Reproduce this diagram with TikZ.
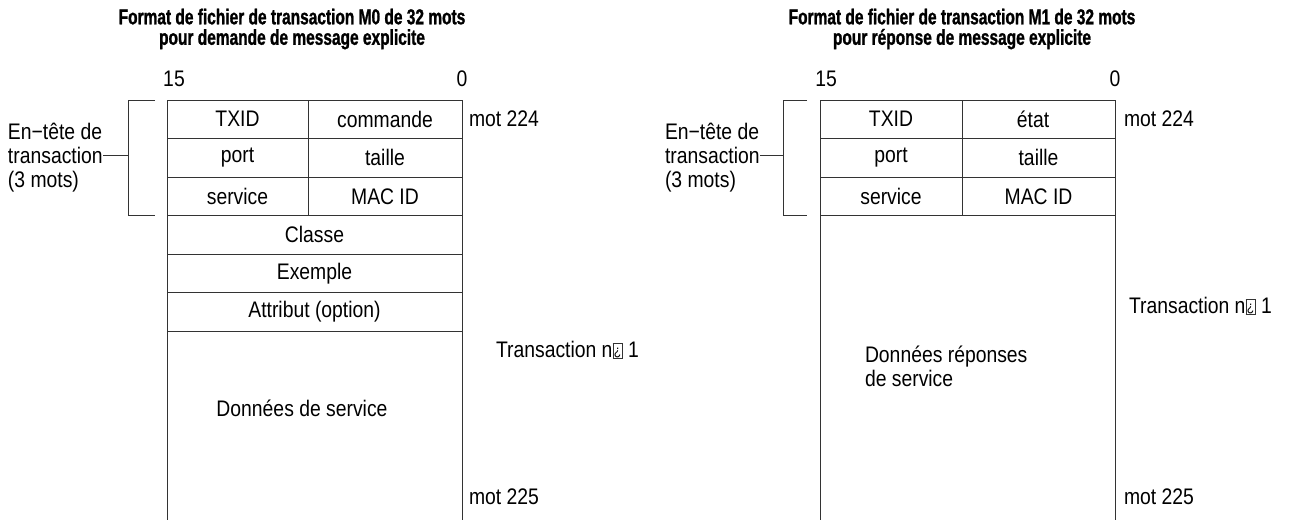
\documentclass[tikz,border=0pt]{standalone}
\usepackage{fontspec}
\setmainfont{Liberation Sans}[FakeStretch=0.86]
\newfontfamily\ttlfont{Liberation Sans Bold}[FakeStretch=0.72,FakeBold=1.2]
\definecolor{ln}{gray}{0.2}
\newcommand{\nobox}{{\setlength{\fboxsep}{0pt}\setlength{\fboxrule}{0.6pt}\raisebox{-1pt}{\fcolorbox{ln}{white}{\makebox[9pt]{\rule{0pt}{15pt}\raisebox{2.5pt}{\fontsize{14}{14}\selectfont ¿}}}}}}
\begin{document}
\begin{tikzpicture}[x=1pt,y=-1pt,
  txt/.style={inner sep=0pt, outer sep=0pt, font=\fontsize{22.5}{24}\selectfont, text=black},
  cell/.style={draw=ln, line width=0.9pt, minimum height=38.5pt, inner sep=0pt, outer sep=0pt, anchor=north west, font=\fontsize{22.5}{24}\selectfont, text=black},
  ttl/.style={inner sep=0pt, align=center, font=\ttlfont\fontsize{21.5}{20.5}\selectfont, text=black},
  rule/.style={draw=ln, line width=0.9pt}]
\useasboundingbox (0,0) rectangle (1289,520);

% ---------------- left: M0 ----------------
\node[ttl] (l-title) at (292,29) {Format de fichier de transaction M0 de 32 mots\\pour demande de message explicite};
\node[txt] (l-15) at (174,79) {15};
\node[txt] (l-0) at (462,79) {0};

\node[cell, minimum width=141pt] (l-txid) at (167,100) {TXID};
\node[cell, minimum width=154pt] (l-cmd) at (308,100) {commande};
\node[cell, minimum width=141pt] (l-port) at (167,138.5) {port};
\node[cell, minimum width=154pt] (l-taille) at (308,138.5) {taille};
\node[cell, minimum width=141pt] (l-serv) at (167,177) {service};
\node[cell, minimum width=154pt] (l-mac) at (308,177) {MAC ID};
\node[cell, minimum width=295pt] (l-classe) at (167,215.5) {Classe};
\node[cell, minimum width=295pt] (l-ex) at (167,254) {Exemple};
\node[cell, minimum width=295pt] (l-attr) at (167,292.5) {Attribut (option)};
\coordinate (l-endl) at (167,520);
\coordinate (l-endr) at (462,520);
\draw[rule] (l-attr.south west) -- (l-endl);
\draw[rule] (l-attr.south east) -- (l-endr);

\node[txt, align=left, anchor=west] (l-head) at (8,158) {En−tête de\\transaction\\(3 mots)};
\coordinate (l-bt) at (155,100);
\coordinate (l-bb) at (155,215.5);
\coordinate (l-tk) at (128,155);
\draw[rule] (l-bt) -- (128,100) -- (128,215.5) -- (l-bb);
\draw[rule] (l-tk) -- (l-tk -| l-head.east);

\node[txt, anchor=west] (l-m224) at (469,119) {mot 224};
\node[txt, anchor=west] (l-tr) at (496,350) {Transaction n\nobox{} 1};
\node[txt, anchor=west] (l-m225) at (469,497) {mot 225};
\node[txt] (l-data) at (302,408) {Données de service};

% ---------------- right: M1 ----------------
\node[ttl] (r-title) at (962,29) {Format de fichier de transaction M1 de 32 mots\\pour réponse de message explicite};
\node[txt] (r-15) at (826,79) {15};
\node[txt] (r-0) at (1115,79) {0};

\node[cell, minimum width=142pt] (r-txid) at (820,100) {TXID};
\node[cell, minimum width=153pt] (r-etat) at (962,100) {};
\node[txt] (r-etat-t) at (1033,119.25) {état};
\node[cell, minimum width=142pt] (r-port) at (820,138.5) {port};
\node[cell, minimum width=153pt] (r-taille) at (962,138.5) {taille};
\node[cell, minimum width=142pt] (r-serv) at (820,177) {service};
\node[cell, minimum width=153pt] (r-mac) at (962,177) {MAC ID};
\coordinate (r-endl) at (820,520);
\coordinate (r-endr) at (1115,520);
\draw[rule] (r-serv.south west) -- (r-endl);
\draw[rule] (r-mac.south east) -- (r-endr);

\node[txt, align=left, anchor=west] (r-head) at (665,158) {En−tête de\\transaction\\(3 mots)};
\coordinate (r-bt) at (807,100);
\coordinate (r-bb) at (807,215.5);
\coordinate (r-tk) at (783,155);
\draw[rule] (r-bt) -- (783,100) -- (783,215.5) -- (r-bb);
\draw[rule] (r-tk) -- (r-tk -| r-head.east);

\node[txt, anchor=west] (r-m224) at (1124,119) {mot 224};
\node[txt, anchor=west] (r-tr) at (1129,306) {Transaction n\nobox{} 1};
\node[txt, anchor=west] (r-m225) at (1124,497) {mot 225};
\node[txt, align=left, anchor=west] (r-data) at (865,366) {Données réponses\\de service};
\end{tikzpicture}
\end{document}
